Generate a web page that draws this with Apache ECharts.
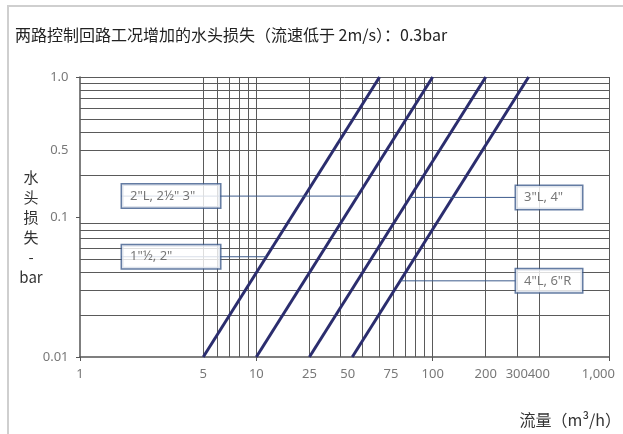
<!DOCTYPE html>
<html><head><meta charset="utf-8">
<script src="https://cdn.jsdelivr.net/npm/echarts@6/dist/echarts.min.js"></script>
<style>html,body{margin:0;padding:0;background:#fff}#c{width:623px;height:434px}</style>
</head><body><div id="c"></div>
<script>
// ---- data ----
const titleText = '两路控制回路工况增加的水头损失（流速低于 2m/s）：0.3bar';
const yAxisTitle = '水\n头\n损\n失\n-\nbar';
const xAxisTitle = '流量（m³/h）';
const lineNames = ['A', 'B', 'C', 'D'];
const flowStart = [5, 10, 20, 35];      // m3/h at 0.01 bar
const flowEnd = [50, 100, 200, 350];    // m3/h at 1.0 bar
const headRange = [0.01, 1];
const xGridValues = [5, 6, 7, 8, 9, 10, 20, 30, 40, 50, 60, 70, 80, 90, 100, 200, 300, 400, 1000];
const yGridValues = [0.02, 0.03, 0.04, 0.05, 0.06, 0.07, 0.08, 0.09, 0.2, 0.3, 0.4, 0.5, 0.6, 0.7, 0.8, 0.9, 1];
const xTickText = ['1', '5', '10', '25', '50', '75', '100', '200', '300', '400', '1,000'];
const xTickPos = [1, 5, 10, 20, 33, 58, 100, 200, 300, 400, 870];
const yTickText = ['1.0', '0.5', '0.1', '0.01'];
const yTickPos = [1, 0.3, 0.1, 0.01];
const annotText = ['2"L, 2½" 3"', '1"½, 2"', '3"L, 4"', '4"L, 6"R'];
const annotHead = [0.141, 0.052, 0.138, 0.035];
const annotBoxLeft = [1.72, 1.72, 295, 295];
const annotTarget = [1, 0, 2, 3];
const annotWidth = [82, 82, 50, 50];

// ---- helpers ----
function flowAtHead(i, h) {
  const t = (Math.log10(h) - Math.log10(headRange[0])) / (Math.log10(headRange[1]) - Math.log10(headRange[0]));
  return Math.pow(10, Math.log10(flowStart[i]) + t * (Math.log10(flowEnd[i]) - Math.log10(flowStart[i])));
}
const FONT = '"Noto Sans", "Noto Sans CJK SC", sans-serif';
const navy = '#2b2d6e';
const boxBlue = '#3d5b8c';

const series = [];
// grid lines
series.push({
  type: 'line', data: [], z: 1, silent: true,
  markLine: {
    silent: true, symbol: ['none', 'none'], label: {show: false}, animation: false,
    lineStyle: {color: '#5a5a5a', width: 1, type: 'solid'},
    emphasis: {disabled: true},
    data: xGridValues.map(v => ({xAxis: v})).concat(yGridValues.map(v => ({yAxis: v})))
  }
});
// main lines
lineNames.forEach((n, i) => {
  series.push({
    name: n, type: 'line', z: 5, symbol: 'none',
    lineStyle: {color: navy, width: 3},
    data: [[flowStart[i], headRange[0]], [flowEnd[i], headRange[1]]]
  });
});
// leader lines + boxes
annotText.forEach((t, i) => {
  const h = annotHead[i];
  series.push({
    type: 'line', z: 6, symbol: 'none', silent: true,
    lineStyle: {color: boxBlue, width: 1},
    data: [[annotBoxLeft[i], h], [flowAtHead(annotTarget[i], h), h]]
  });
  series.push({
    type: 'scatter', z: 10, symbolSize: 1, silent: true,
    itemStyle: {color: 'rgba(0,0,0,0)'},
    data: [[annotBoxLeft[i], h]],
    label: {
      show: true, position: 'right', distance: 0,
      formatter: t, fontFamily: FONT, fontSize: 13, color: '#555',
      backgroundColor: '#fff', borderColor: boxBlue, borderWidth: 1.5,
      padding: [4, 8], lineHeight: 15, width: annotWidth[i], align: 'left'
    }
  });
});
// x tick labels
series.push({
  type: 'scatter', z: 10, symbolSize: 1, silent: true, itemStyle: {color: 'rgba(0,0,0,0)'},
  data: xTickPos.map(v => [v, headRange[0]]),
  label: {show: true, position: 'bottom', distance: 10, fontFamily: FONT, fontSize: 13, color: '#555',
    formatter: p => xTickText[p.dataIndex]}
});
// y tick labels
series.push({
  type: 'scatter', z: 10, symbolSize: 1, silent: true, itemStyle: {color: 'rgba(0,0,0,0)'},
  data: yTickPos.map(v => [1, v]),
  label: {show: true, position: 'left', distance: 11, fontFamily: FONT, fontSize: 13, color: '#555',
    formatter: p => yTickText[p.dataIndex]}
});

const chart = echarts.init(document.getElementById('c'), null, {renderer: 'canvas'});
chart.setOption({
  animation: false,
  backgroundColor: '#fff',
  grid: {left: 80, right: 14, top: 77, bottom: 77},
  title: {text: titleText, left: 10, top: 22, textStyle: {fontFamily: '"Noto Sans CJK SC", sans-serif', fontSize: 16, fontWeight: 'normal', color: '#222'}},
  graphic: [
    {type: 'rect', shape: {x: 8, y: 6, width: 700, height: 500}, style: {fill: 'none', stroke: '#cfcfcf', lineWidth: 2}, z: -10, silent: true},
    {type: 'text', x: 621, y: 412, style: {text: xAxisTitle, align: 'right', font: '16px "Noto Sans CJK SC", sans-serif', fill: '#333'}, silent: true},
    {type: 'text', x: 31, y: 167, style: {text: yAxisTitle, align: 'center', verticalAlign: 'top', lineHeight: 20, font: '15px "Noto Sans CJK SC", sans-serif', fill: '#333'}, silent: true}
  ],
  xAxis: {
    type: 'log', logBase: 10, min: 1, max: 1000,
    axisLine: {show: true, lineStyle: {color: '#555', width: 1.5}},
    axisTick: {show: true, length: 4, inside: false, lineStyle: {color: '#555'}},
    axisLabel: {show: false}, splitLine: {show: false}, minorTick: {show: false}
  },
  yAxis: {
    type: 'log', logBase: 10, min: 0.01, max: 1,
    axisLine: {show: true, lineStyle: {color: '#555', width: 1.5}},
    axisTick: {show: true, length: 4, lineStyle: {color: '#555'}},
    axisLabel: {show: false}, splitLine: {show: false}
  },
  series: series
});
</script></body></html>
